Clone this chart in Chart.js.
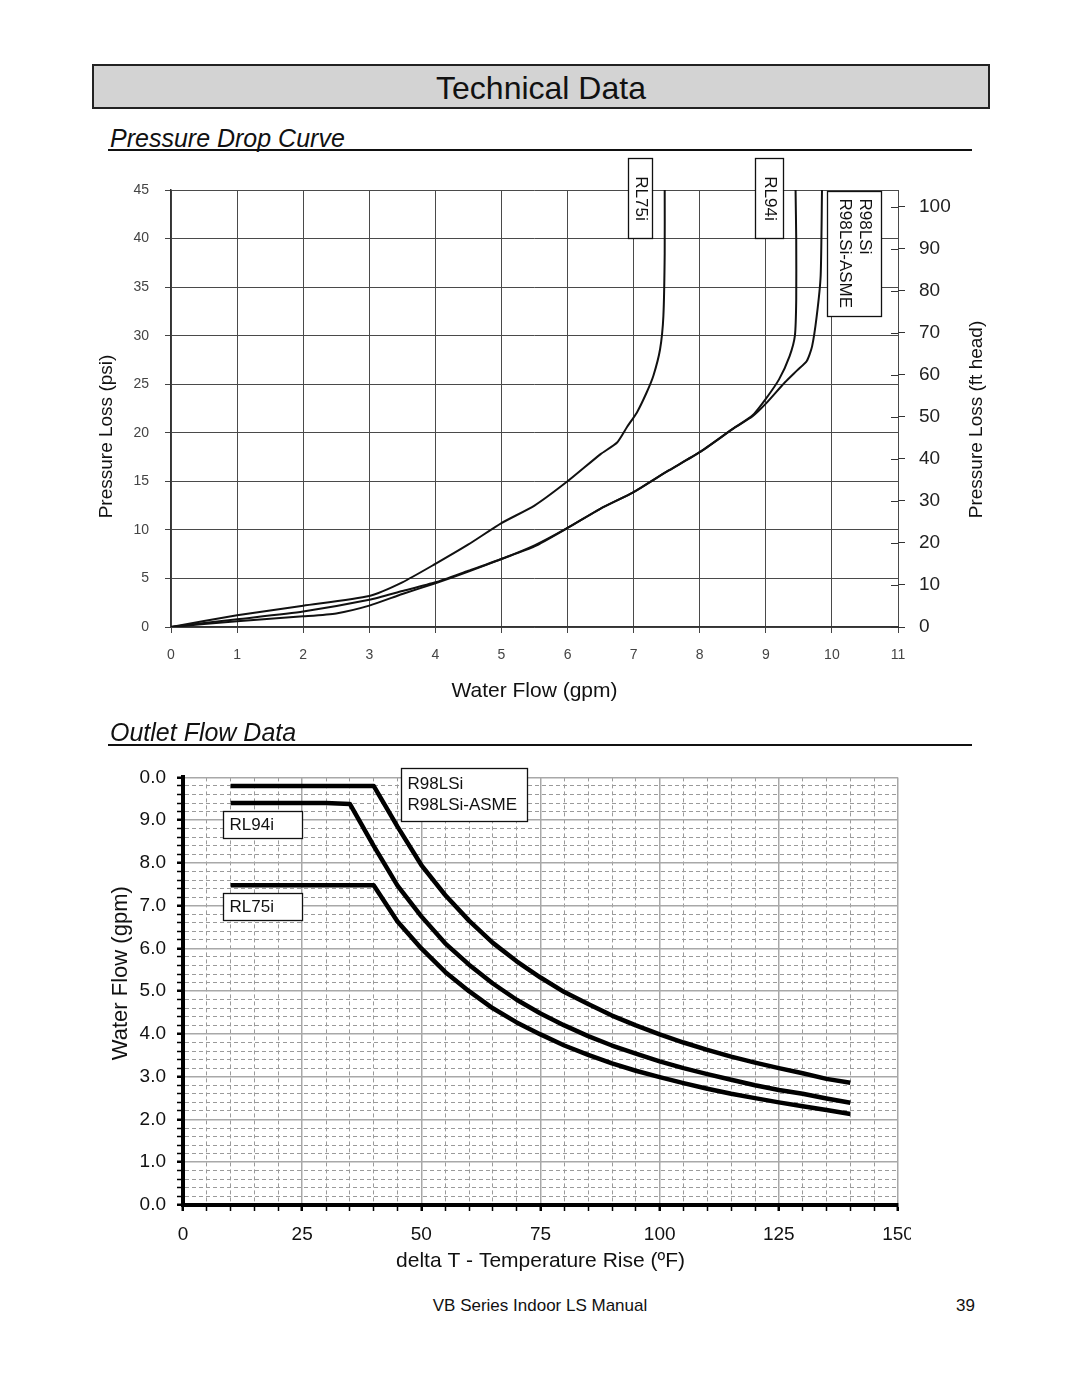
<!DOCTYPE html>
<html>
<head>
<meta charset="utf-8">
<title>Technical Data</title>
<script src="https://cdn.jsdelivr.net/npm/chart.js@4.4.1/dist/chart.umd.min.js"></script>
<style>
  body { margin: 0; background: #fff; font-family: "Liberation Sans", Arial, sans-serif; color: #111; }
  #page { position: relative; width: 1080px; height: 1397px; overflow: hidden; }
  .banner { position: absolute; left: 92px; top: 64px; width: 894px; height: 41px; background: #d3d3d3;
            border: 2px solid #222; text-align: center; font-size: 32px; line-height: 45px; }
  .section { position: absolute; left: 110px; font-style: italic; font-size: 25px; line-height: 28px; }
  .rule { position: absolute; left: 108px; width: 864px; height: 2px; background: #111; }
  #topWrap { position: absolute; left: 90px; top: 150px; width: 910px; height: 570px; }
  #botClip { position: absolute; left: 90px; top: 755px; width: 821px; height: 540px; overflow: hidden; }
  #botWrap { position: relative; width: 840px; height: 540px; }
  .foot { position: absolute; top: 1297px; font-size: 17px; line-height: 18px; }
</style>
</head>
<body>
<div id="page">
  <div class="banner">Technical Data</div>

  <div class="section" style="top:124px">Pressure Drop Curve</div>
  <div class="rule" style="top:149px"></div>
  <div id="topWrap"><canvas id="dropChart"></canvas></div>

  <div class="section" style="top:718px">Outlet Flow Data</div>
  <div class="rule" style="top:744px"></div>
  <div id="botClip"><div id="botWrap"><canvas id="flowChart"></canvas></div></div>

  <div class="foot" style="left:0;width:1080px;text-align:center">VB Series Indoor LS Manual</div>
  <div class="foot" style="left:956px">39</div>
</div>

<script>
// Pressure drop curve: water flow (gpm) vs pressure loss (psi)
const rl75Flow = [0, 1, 2, 3, 3.5, 4, 4.5, 5, 5.5, 6, 6.5, 6.75, 6.9, 7.05, 7.2, 7.3, 7.4, 7.45, 7.47, 7.47];
const rl75Psi  = [0, 1.2, 2.2, 3.2, 4.6, 6.5, 8.5, 10.7, 12.5, 15.0, 17.8, 19.0, 20.6, 22.1, 24.2, 25.9, 28.6, 32.0, 38.5, 45];
const rl94Flow = [0, 1, 2, 3, 3.5, 4, 4.5, 5, 5.5, 6, 6.5, 7, 7.5, 8, 8.5, 8.8, 9.0, 9.2, 9.36, 9.44, 9.46, 9.46, 9.45];
const rl94Psi  = [0, 0.8, 1.6, 2.8, 3.7, 4.6, 5.8, 7.0, 8.4, 10.2, 12.2, 13.9, 16.0, 18.0, 20.4, 21.8, 23.5, 25.5, 27.9, 30.0, 33.7, 40, 45];
const r98Flow  = [0, 1, 2, 2.5, 3, 3.5, 4, 4.5, 5, 5.5, 6, 6.5, 7, 7.5, 8, 8.5, 8.8, 9.0, 9.29, 9.47, 9.62, 9.7, 9.77, 9.83, 9.85];
const r98Psi   = [0, 0.6, 1.1, 1.4, 2.2, 3.4, 4.5, 5.7, 7.0, 8.3, 10.2, 12.2, 13.9, 16.0, 18.0, 20.4, 21.7, 23.0, 25.2, 26.4, 27.4, 28.9, 32.0, 36.2, 45];

// Outlet flow data: delta T (F) vs water flow (gpm)
const deltaT   = [10, 15, 20, 25, 30, 35, 40, 45, 50, 55, 60, 65, 70, 75, 80, 85, 90, 95, 100, 105, 110, 115, 120, 125, 130, 135, 140];
const r98Gpm   = [9.8, 9.8, 9.8, 9.8, 9.8, 9.8, 9.8, 8.85, 7.95, 7.25, 6.65, 6.13, 5.7, 5.32, 4.98, 4.7, 4.43, 4.2, 3.99, 3.8, 3.63, 3.47, 3.33, 3.2, 3.08, 2.95, 2.86];
const rl94Gpm  = [9.4, 9.4, 9.4, 9.4, 9.4, 9.38, 8.4, 7.47, 6.75, 6.12, 5.62, 5.18, 4.8, 4.48, 4.2, 3.95, 3.73, 3.54, 3.36, 3.2, 3.06, 2.93, 2.8, 2.69, 2.6, 2.49, 2.39];
const rl75Gpm  = [7.48, 7.48, 7.48, 7.48, 7.48, 7.48, 7.48, 6.63, 6.0, 5.45, 5.0, 4.6, 4.27, 3.99, 3.73, 3.51, 3.31, 3.14, 2.99, 2.85, 2.72, 2.6, 2.5, 2.4, 2.31, 2.22, 2.13];

const flowTickLabels  = ['0.0', '1.0', '2.0', '3.0', '4.0', '5.0', '6.0', '7.0', '8.0', '9.0', '0.0'];
const deltaTickLabels = ['0', '25', '50', '75', '100', '125', '150'];

const PSI_TO_FT = 2.31;
const FONT = '"Liberation Sans", Arial, sans-serif';

function pts(xs, ys) {
    return xs.map((x, i) => ({ x: x, y: ys[i] }));
}

function isWhole(v) {
    return Math.abs(v - Math.round(v)) < 1e-6;
}

function rotatedText(ctx, text, font, x, y, angle) {
    ctx.save();
    ctx.fillStyle = '#111';
    ctx.font = font;
    ctx.translate(x, y);
    ctx.rotate(angle);
    ctx.textAlign = 'center';
    ctx.textBaseline = 'middle';
    ctx.fillText(text, 0, 0);
    ctx.restore();
}

// boxed curve labels, vertical axis titles and cross ticks on the right axis
const callouts = {
    id: 'callouts',
    afterDraw(chart, args, opts) {
        const { ctx, chartArea } = chart;
        const xs = chart.scales.x;
        const ys = chart.scales.y;
        const midY = (chartArea.top + chartArea.bottom) / 2;
        ctx.save();

        if (opts.leftTitle) {
            const t = opts.leftTitle;
            rotatedText(ctx, t.text, t.font, t.x, midY + t.shift, -Math.PI / 2);
        }

        const yR = chart.scales.yR;
        if (yR) {
            ctx.strokeStyle = '#333';
            ctx.lineWidth = 1;
            yR.ticks.forEach(t => {
                const py = Math.round(yR.getPixelForValue(t.value)) + 0.5;
                ctx.beginPath();
                ctx.moveTo(chartArea.right - 7, py);
                ctx.lineTo(chartArea.right, py);
                ctx.stroke();
            });
            const t = opts.rightTitle;
            rotatedText(ctx, t.text, t.font, chart.width - t.x, midY + t.shift, -Math.PI / 2);
        }

        ctx.font = opts.font;
        opts.boxes.forEach(b => {
            const left = Math.round(xs.getPixelForValue(b.x1)) + 0.5;
            const right = Math.round(xs.getPixelForValue(b.x2)) + 0.5;
            const top = Math.round(ys.getPixelForValue(b.y1)) + 0.5;
            const bottom = Math.round(ys.getPixelForValue(b.y2)) + 0.5;
            ctx.fillStyle = '#fff';
            ctx.fillRect(left, top, right - left, bottom - top);
            ctx.strokeStyle = '#111';
            ctx.lineWidth = 1.3;
            ctx.strokeRect(left, top, right - left, bottom - top);

            ctx.save();
            let w, h;
            if (b.vertical) {
                ctx.translate(right, top);
                ctx.rotate(Math.PI / 2);
                w = bottom - top;
                h = right - left;
            } else {
                ctx.translate(left, top);
                w = right - left;
                h = bottom - top;
            }
            ctx.fillStyle = '#111';
            ctx.textBaseline = 'middle';
            const n = b.lines.length;
            b.lines.forEach((t, i) => {
                const ty = h / 2 + (i - (n - 1) / 2) * opts.lineHeight;
                if (b.align === 'center') {
                    ctx.textAlign = 'center';
                    ctx.fillText(t, w / 2, ty);
                } else {
                    ctx.textAlign = 'left';
                    ctx.fillText(t, opts.pad, ty);
                }
            });
            ctx.restore();
        });
        ctx.restore();
    }
};

// ---- Pressure drop curve ----
const curveStyle = { borderColor: '#111', borderWidth: 2, pointRadius: 0, showLine: true, tension: 0.2, fill: false };

new Chart(document.getElementById('dropChart'), {
    type: 'scatter',
    data: {
        datasets: [
            Object.assign({ label: 'RL75i', data: pts(rl75Flow, rl75Psi) }, curveStyle),
            Object.assign({ label: 'RL94i', data: pts(rl94Flow, rl94Psi) }, curveStyle),
            Object.assign({ label: 'R98LSi', data: pts(r98Flow, r98Psi) }, curveStyle)
        ]
    },
    options: {
        responsive: true,
        maintainAspectRatio: false,
        animation: false,
        layout: { padding: { top: 40 } },
        plugins: {
            legend: { display: false },
            tooltip: { enabled: false },
            callouts: {
                font: '17px ' + FONT,
                lineHeight: 20,
                pad: 7,
                leftTitle: { text: 'Pressure Loss (psi)', font: '19px ' + FONT, x: 17, shift: 28 },
                rightTitle: { text: 'Pressure Loss (ft head)', font: '19px ' + FONT, x: 23, shift: 11 },
                boxes: [
                    { lines: ['RL75i'], x1: 6.914, x2: 7.277, y1: 48.3, y2: 40.06, vertical: true, align: 'center' },
                    { lines: ['RL94i'], x1: 8.835, x2: 9.259, y1: 48.3, y2: 40.06, vertical: true, align: 'center' },
                    { lines: ['R98LSi', 'R98LSi-ASME'], x1: 9.924, x2: 10.74, y1: 44.9, y2: 32.03, vertical: true, align: 'start' }
                ]
            }
        },
        scales: {
            x: {
                type: 'linear',
                min: 0, max: 11,
                afterFit: s => { s.height = 93; },
                ticks: { stepSize: 1, color: '#444', font: { family: FONT, size: 14 }, padding: 14, maxRotation: 0 },
                grid: { color: '#4a4a4a', lineWidth: 1, tickLength: 6, tickColor: '#444' },
                border: { color: '#333', width: 1.5 },
                title: { display: true, text: 'Water Flow (gpm)', color: '#111', font: { family: FONT, size: 21 }, padding: { top: 0, bottom: 16 } }
            },
            y: {
                min: 0, max: 45,
                afterFit: s => { s.width = 81; },
                ticks: { stepSize: 5, color: '#444', font: { family: FONT, size: 14 }, padding: 16 },
                grid: { color: '#4a4a4a', lineWidth: 1, tickLength: 6, tickColor: '#444' },
                border: { color: '#333', width: 1.5 }
            },
            yR: {
                position: 'right',
                min: 0, max: 45 * PSI_TO_FT,
                afterFit: s => { s.width = 102; },
                ticks: { stepSize: 10, includeBounds: false, color: '#222', font: { family: FONT, size: 19 }, padding: 14 },
                grid: { drawOnChartArea: false, tickLength: 7, tickColor: '#333' },
                border: { display: false }
            }
        }
    },
    plugins: [callouts]
});

// ---- Outlet flow data ----
const flowStyle = { borderColor: '#000', borderWidth: 4.5, pointRadius: 0, showLine: true, tension: 0, fill: false, borderJoinStyle: 'round' };

new Chart(document.getElementById('flowChart'), {
    type: 'scatter',
    data: {
        datasets: [
            Object.assign({ label: 'R98LSi', data: pts(deltaT, r98Gpm) }, flowStyle),
            Object.assign({ label: 'RL94i', data: pts(deltaT, rl94Gpm) }, flowStyle),
            Object.assign({ label: 'RL75i', data: pts(deltaT, rl75Gpm) }, flowStyle)
        ]
    },
    options: {
        responsive: true,
        maintainAspectRatio: false,
        animation: false,
        layout: { padding: { top: 18, right: 32 } },
        plugins: {
            legend: { display: false },
            tooltip: { enabled: false },
            callouts: {
                font: '17px ' + FONT,
                lineHeight: 21,
                pad: 6,
                leftTitle: { text: 'Water Flow (gpm)', font: '22px ' + FONT, x: 31, shift: -18 },
                boxes: [
                    { lines: ['R98LSi', 'R98LSi-ASME'], x1: 45.7, x2: 72.2, y1: 10.23, y2: 8.98, align: 'start' },
                    { lines: ['RL94i'], x1: 8.4, x2: 25.0, y1: 9.21, y2: 8.59, align: 'start' },
                    { lines: ['RL75i'], x1: 8.4, x2: 25.0, y1: 7.29, y2: 6.67, align: 'start' }
                ]
            }
        },
        scales: {
            x: {
                type: 'linear',
                min: 0, max: 150,
                afterFit: s => { s.height = 90; },
                ticks: {
                    stepSize: 5, autoSkip: false, maxRotation: 0, maxTicksLimit: 100,
                    color: '#111', font: { family: FONT, size: 19 }, padding: 12,
                    callback: v => (v % 25 === 0 ? deltaTickLabels[v / 25] : '')
                },
                grid: {
                    color: c => (c.tick && c.tick.value % 25 === 0 ? '#a8a8a8' : '#9a9a9a'),
                    lineWidth: c => (c.tick && c.tick.value % 25 === 0 ? 1.5 : 1),
                    tickLength: 6,
                    tickColor: '#000',
                    tickWidth: c => (c.tick && c.tick.value % 25 === 0 ? 2.5 : 1.5)
                },
                border: { color: '#000', width: 4, dash: c => (c.tick && c.tick.value % 25 !== 0 ? [4, 3] : []) },
                title: { display: true, text: 'delta T - Temperature Rise (ºF)', color: '#111', font: { family: FONT, size: 21 }, padding: { top: 0, bottom: 21 } }
            },
            y: {
                min: 0, max: 10,
                afterFit: s => { s.width = 93; },
                ticks: {
                    stepSize: 0.2, autoSkip: false, maxTicksLimit: 100,
                    color: '#111', font: { family: FONT, size: 19 }, padding: 11,
                    callback: v => (isWhole(v) ? flowTickLabels[Math.round(v)] : '')
                },
                grid: {
                    color: c => (c.tick && isWhole(c.tick.value) ? '#a8a8a8' : '#9a9a9a'),
                    lineWidth: c => (c.tick && isWhole(c.tick.value) ? 1.5 : 1),
                    tickLength: 6,
                    tickColor: '#000',
                    tickWidth: c => (c.tick && isWhole(c.tick.value) ? 2.5 : 1.5)
                },
                border: { color: '#000', width: 4, dash: c => (c.tick && !isWhole(c.tick.value) ? [4, 3] : []) }
            }
        }
    },
    plugins: [callouts]
});
</script>
</body>
</html>
